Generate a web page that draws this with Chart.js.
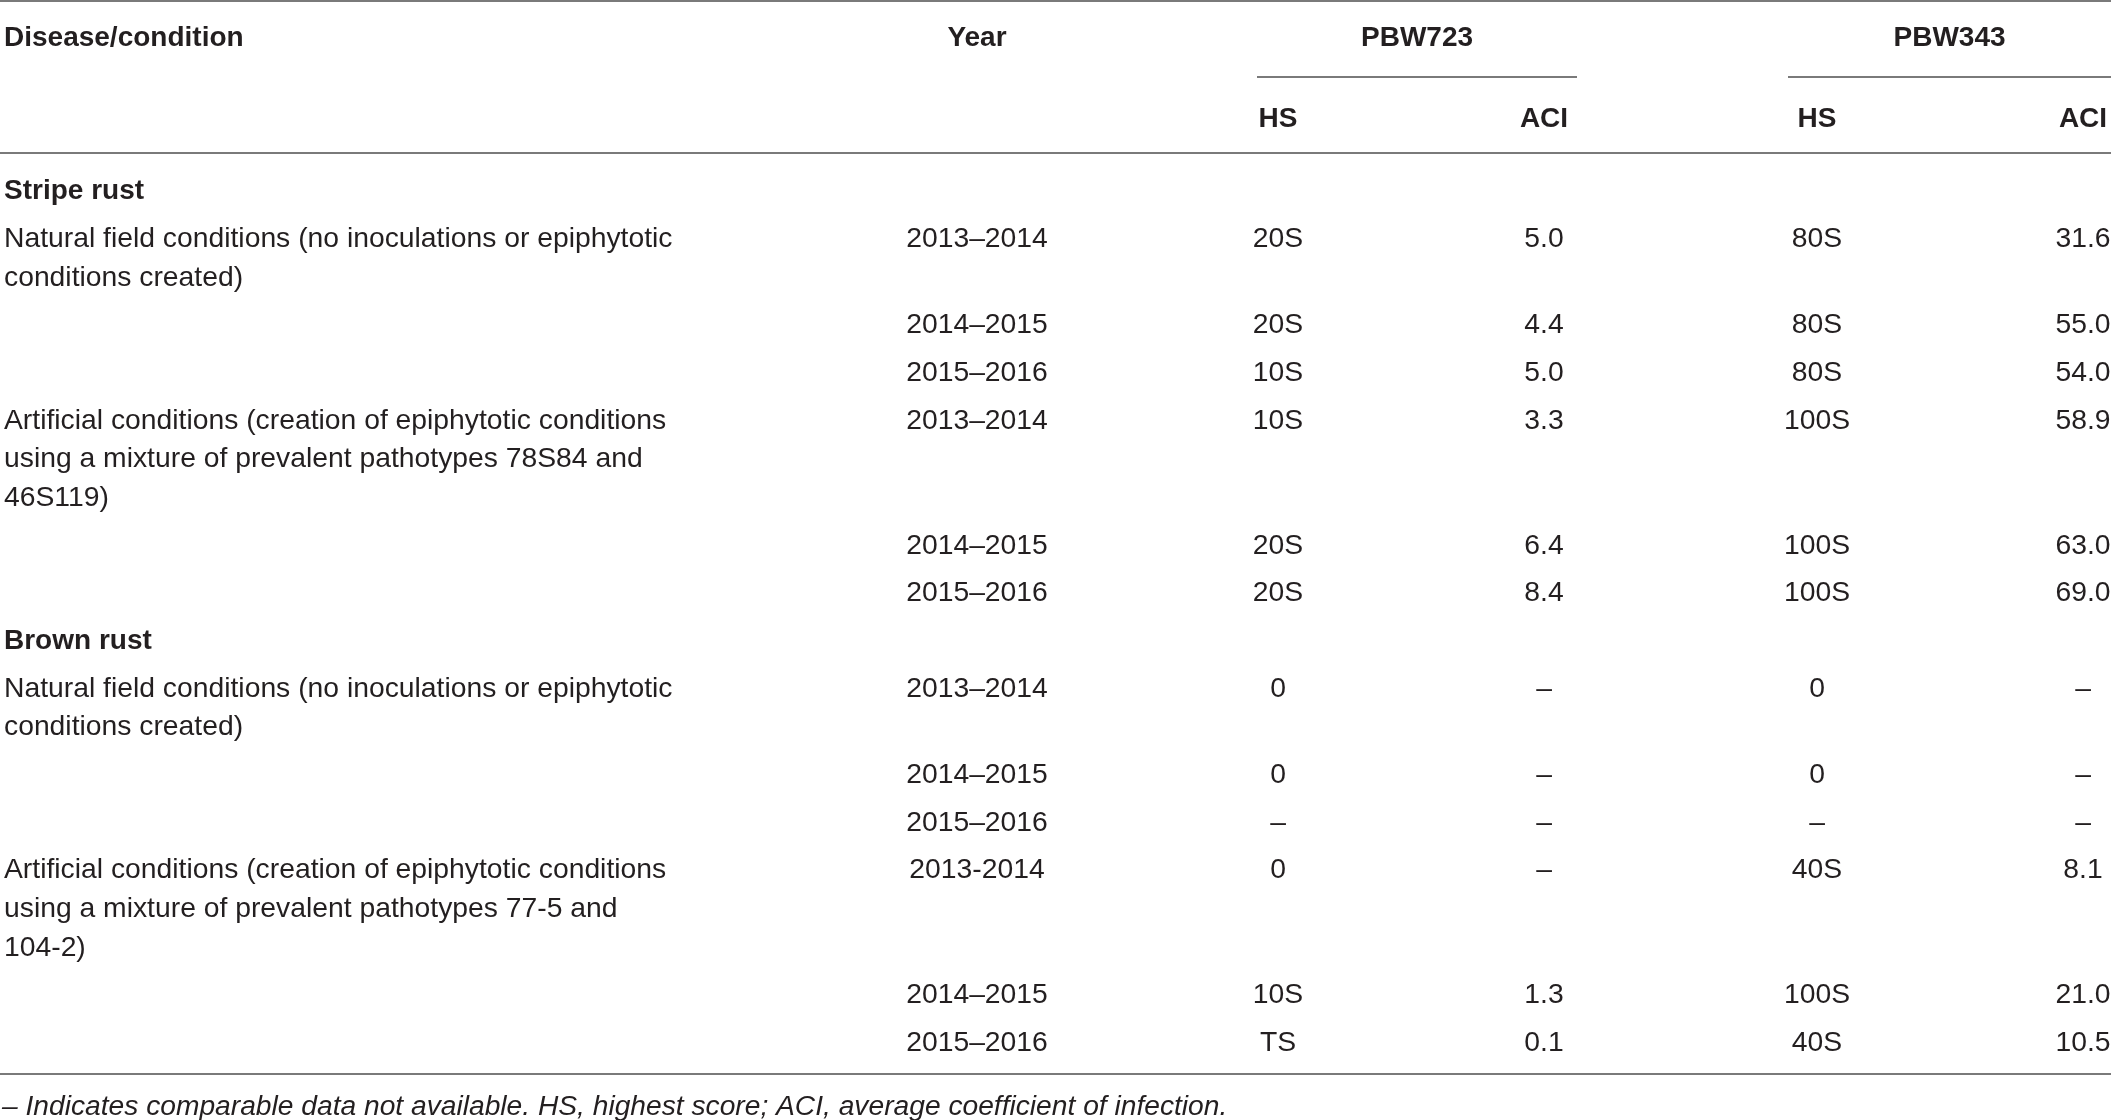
<!DOCTYPE html>
<html>
<head>
<meta charset="utf-8">
<title>Stripe rust and brown rust reaction of PBW723 and PBW343</title>
<script src="https://cdn.jsdelivr.net/npm/chart.js@4.4.1/dist/chart.umd.min.js"></script>
<style>
  html, body { margin: 0; padding: 0; background: #fff; }
  #wrap { width: 2111px; height: 1120px; position: relative; }
</style>
</head>
<body>
<div id="wrap"><canvas id="tableChart"></canvas></div>
<script>
// table content
const sections = ["Stripe rust", "Brown rust"];
const rowSection = [0, 0, 0, 0, 0, 0, 1, 1, 1, 1, 1, 1];
const conditions = [
  ["Natural field conditions (no inoculations or epiphytotic", "conditions created)"],
  [], [],
  ["Artificial conditions (creation of epiphytotic conditions", "using a mixture of prevalent pathotypes 78S84 and", "46S119)"],
  [], [],
  ["Natural field conditions (no inoculations or epiphytotic", "conditions created)"],
  [], [],
  ["Artificial conditions (creation of epiphytotic conditions", "using a mixture of prevalent pathotypes 77-5 and", "104-2)"],
  [], []
];
const years = ["2013–2014", "2014–2015", "2015–2016", "2013–2014", "2014–2015", "2015–2016",
               "2013–2014", "2014–2015", "2015–2016", "2013-2014", "2014–2015", "2015–2016"];
const hs723 = ["20S", "20S", "10S", "10S", "20S", "20S", "0", "0", "–", "0", "10S", "TS"];
const aci723 = [5.0, 4.4, 5.0, 3.3, 6.4, 8.4, null, null, null, null, 1.3, 0.1];
const hs343 = ["80S", "80S", "80S", "100S", "100S", "100S", "0", "0", "–", "40S", "100S", "40S"];
const aci343 = [31.6, 55.0, 54.0, 58.9, 63.0, 69.0, null, null, null, 8.1, 21.0, 10.5];
const varieties = ["PBW723", "PBW343"];
const subHeads = ["HS", "ACI"];
const footnote = "– Indicates comparable data not available. HS, highest score; ACI, average coefficient of infection.";

// layout
const W = 2111, H = 1120;
const INK = '#231f20', RULE = '#7a7a7a';
const FAMILY = '"Liberation Sans", Arial, Helvetica, sans-serif';
const REG = '28.3px ' + FAMILY, BOLD = 'bold 28px ' + FAMILY, ITAL = 'italic 28.2px ' + FAMILY;
const col = { cond: 4, year: 977, hs1: 1278, aci1: 1544, hs2: 1817, aci2: 2083 };
const spans = [[1257, 1577], [1788, 2111]];
const head1Y = 38.5, spanRuleY = 77, head2Y = 119.5, headRuleY = 153;
const firstRowY = 191.5, rowGap = 47.6, lineGap = 38.8;

// y of every row, from how many lines the row before it wraps to
const rowY = [], sectionY = [];
let y = firstRowY - rowGap, prevLines = 1, lastSection = -1;
years.forEach((yr, i) => {
  if (rowSection[i] !== lastSection) {
    y += (prevLines - 1) * lineGap + rowGap;
    sectionY.push(y);
    lastSection = rowSection[i];
    prevLines = 1;
  }
  y += (prevLines - 1) * lineGap + rowGap;
  rowY.push(y);
  prevLines = Math.max(1, conditions[i].length);
});
const lastY = y + (prevLines - 1) * lineGap;
const bottomRuleY = lastY + 31;
const footY = bottomRuleY + 33;

const fmt = v => v === null ? '–' : v.toFixed(1);

function textSet(points, font, align) {
  return { type: 'scatter', data: points, pointRadius: 0, pointHoverRadius: 0,
           cellFont: font, cellAlign: align };
}
function ruleSet(x0, x1, yy) {
  return { type: 'line', data: [{ x: x0, y: yy }, { x: x1, y: yy }],
           borderColor: RULE, borderWidth: 2, pointRadius: 0, fill: false };
}

const condPoints = [];
conditions.forEach((lines, i) => {
  lines.forEach((t, k) => condPoints.push({ x: col.cond, y: rowY[i] + k * lineGap, text: t }));
});

const datasets = [
  // rules
  ruleSet(0, W, 1),
  ruleSet(spans[0][0], spans[0][1], spanRuleY),
  ruleSet(spans[1][0], spans[1][1], spanRuleY),
  ruleSet(0, W, headRuleY),
  ruleSet(0, W, bottomRuleY),
  // header
  textSet([{ x: col.cond, y: head1Y, text: "Disease/condition" }], BOLD, 'left'),
  textSet([{ x: col.year, y: head1Y, text: "Year" }], BOLD, 'center'),
  textSet(varieties.map((v, k) => ({ x: (spans[k][0] + spans[k][1]) / 2, y: head1Y, text: v })), BOLD, 'center'),
  textSet([col.hs1, col.aci1, col.hs2, col.aci2].map((x, k) => ({ x, y: head2Y, text: subHeads[k % 2] })), BOLD, 'center'),
  // body
  textSet(sections.map((s, k) => ({ x: col.cond, y: sectionY[k], text: s })), BOLD, 'left'),
  textSet(condPoints, REG, 'left'),
  textSet(years.map((t, i) => ({ x: col.year, y: rowY[i], text: t })), REG, 'center'),
  textSet(hs723.map((t, i) => ({ x: col.hs1, y: rowY[i], text: t })), REG, 'center'),
  textSet(aci723.map((v, i) => ({ x: col.aci1, y: rowY[i], text: fmt(v) })), REG, 'center'),
  textSet(hs343.map((t, i) => ({ x: col.hs2, y: rowY[i], text: t })), REG, 'center'),
  textSet(aci343.map((v, i) => ({ x: col.aci2, y: rowY[i], text: fmt(v) })), REG, 'center'),
  textSet([{ x: col.cond - 2, y: footY, text: footnote }], ITAL, 'left')
];

// writes the cell text at each point the scales placed
const cellText = {
  id: 'cellText',
  afterDatasetsDraw(chart) {
    const ctx = chart.ctx;
    chart.data.datasets.forEach((ds, di) => {
      if (!ds.cellFont) return;
      const meta = chart.getDatasetMeta(di);
      ctx.save();
      ctx.font = ds.cellFont;
      ctx.fillStyle = INK;
      ctx.textAlign = ds.cellAlign;
      ctx.textBaseline = 'middle';
      meta.data.forEach((el, i) => ctx.fillText(ds.data[i].text, el.x, el.y));
      ctx.restore();
    });
  }
};

new Chart(document.getElementById('tableChart'), {
  type: 'scatter',
  data: { datasets },
  options: {
    responsive: true,
    maintainAspectRatio: false,
    animation: false,
    events: [],
    layout: { padding: 0 },
    plugins: { legend: { display: false }, tooltip: { enabled: false } },
    scales: {
      x: { type: 'linear', min: 0, max: W, display: false },
      y: { type: 'linear', min: 0, max: H, reverse: true, display: false }
    }
  },
  plugins: [cellText]
});
</script>
</body>
</html>
